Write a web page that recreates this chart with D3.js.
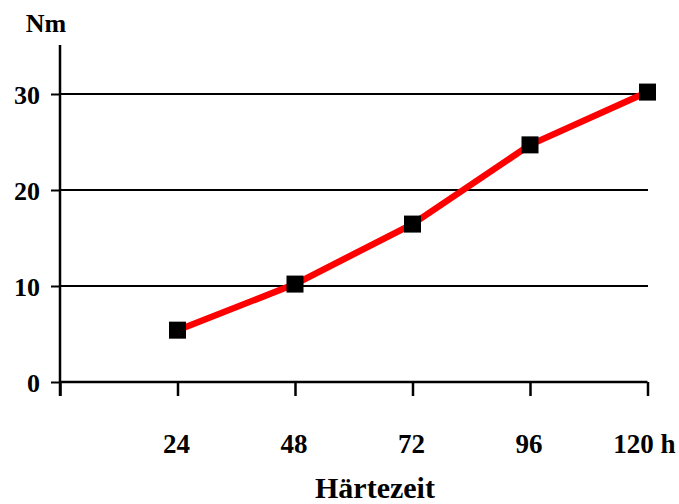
<!DOCTYPE html>
<html><head><meta charset="utf-8">
<script src="https://cdn.jsdelivr.net/npm/d3@7"></script>
<style>body{margin:0;background:#fff}svg{display:block}text{font-family:"Liberation Serif","Times New Roman",serif;font-weight:bold;fill:#000}</style>
</head><body>
<svg id="c" width="679" height="504"></svg>
<script>
const hours = [24, 48, 72, 96, 120];
const torque = [5.4, 10.2, 16.45, 24.7, 30.2];
const yTicks = [0, 10, 20, 30];
const xTickLabels = ["24", "48", "72", "96", "120 h"];
const yUnit = "Nm";
const xTitle = "Härtezeit";

const svg = d3.select("#c");
const x = d3.scaleLinear().domain([0, 120]).range([60, 647.5]);
const y = d3.scaleLinear().domain([0, 30]).range([382, 94]);

// gridlines
svg.append("g").selectAll("line").data(yTicks.slice(1)).join("line")
  .attr("x1", 60).attr("x2", 648).attr("y1", d => y(d)).attr("y2", d => y(d))
  .attr("stroke", "#000").attr("stroke-width", 2);

// y axis
const yAxis = svg.append("g").attr("transform", "translate(60,0)")
  .call(d3.axisLeft(y).tickValues(yTicks).tickSize(9).tickPadding(11).tickFormat(d3.format("d")));
yAxis.select(".domain").remove();
yAxis.selectAll(".tick line").attr("stroke", "#000").attr("stroke-width", 2);
yAxis.selectAll(".tick text").attr("font-size", 26).attr("dy", "0.36em");
svg.append("line").attr("x1", 60).attr("x2", 60).attr("y1", 45).attr("y2", 396)
  .attr("stroke", "#000").attr("stroke-width", 2.5);

// x axis
const xAxis = svg.append("g").attr("transform", "translate(0,382)")
  .call(d3.axisBottom(x).tickValues([0].concat(hours)).tickSize(14).tickFormat(() => ""));
xAxis.select(".domain").attr("d", `M60,0H${x(120)}`).attr("stroke", "#000").attr("stroke-width", 2.5);
xAxis.selectAll(".tick line").attr("stroke", "#000").attr("stroke-width", 2.5);
svg.append("g").selectAll("text").data(hours).join("text")
  .attr("x", (d, i) => x(d) + (i === 4 ? -3 : -1)).attr("y", 453)
  .attr("text-anchor", "middle").attr("font-size", 27)
  .text((d, i) => xTickLabels[i]);

// titles
svg.append("text").attr("x", 46).attr("y", 32).attr("text-anchor", "middle").attr("font-size", 26).text(yUnit);
svg.append("text").attr("x", 375).attr("y", 498).attr("text-anchor", "middle").attr("font-size", 30).text(xTitle);

// line
const pts = hours.map((h, i) => [h, torque[i]]);
svg.append("path").datum(pts)
  .attr("d", d3.line().x(d => x(d[0])).y(d => y(d[1])))
  .attr("fill", "none").attr("stroke", "#ff0000").attr("stroke-width", 6.5).attr("stroke-linejoin", "round");

// markers
svg.append("g").selectAll("rect").data(pts).join("rect")
  .attr("x", d => x(d[0]) - 8.5).attr("y", d => y(d[1]) - 8.5)
  .attr("width", 17).attr("height", 17).attr("fill", "#000");
</script>
</body></html>
